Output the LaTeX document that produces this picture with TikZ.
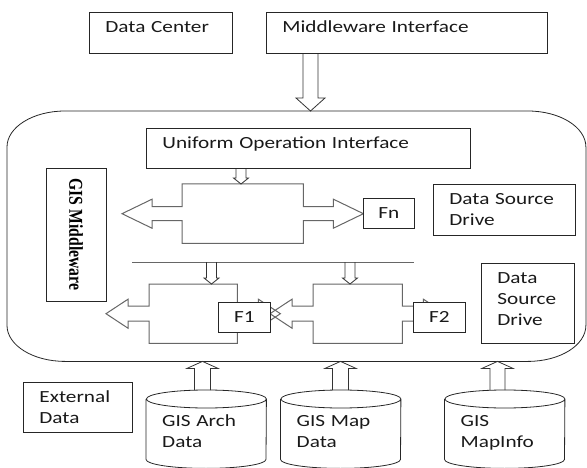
\documentclass[tikz,border=0pt]{standalone}
\usepackage{fontspec}
\usepackage{graphicx}
\setmainfont{Carlito}[FakeStretch=1.25]
\newfontfamily\gisfont{Liberation Serif}
\usetikzlibrary{calc,positioning}

\newcommand\txtsize{\fontsize{17}{21}\selectfont}

% hollow block arrows: #1 gives the start height, #2 the tip,
% #3 half shaft, #4 half head, #5 head length
\newcommand\arrowdown[5]{%
  \draw[hollow] let \p1=(#1), \p2=(#2) in
    (\x2-#3,\y1) -- (\x2-#3,\y2+#5) -- (\x2-#4,\y2+#5) -- (\p2)
    -- (\x2+#4,\y2+#5) -- (\x2+#3,\y2+#5) -- (\x2+#3,\y1);}
\newcommand\arrowup[5]{%
  \draw[hollow] let \p1=(#1), \p2=(#2) in
    (\x2-#3,\y1) -- (\x2-#3,\y2-#5) -- (\x2-#4,\y2-#5) -- (\p2)
    -- (\x2+#4,\y2-#5) -- (\x2+#3,\y2-#5) -- (\x2+#3,\y1);}

% left/right arrow callout round body node #1
% #2 half shaft, #3 half head, #4 shaft length, #5 head length
\newcommand\lrcallout[5]{%
  \draw[callout] let \p1=(#1.north west), \p2=(#1.south east), \p3=(#1.center) in
    (\p1) -- (\x2,\y1) -- (\x2,\y3+#2) -- (\x2+#4,\y3+#2) -- (\x2+#4,\y3+#3)
    -- (\x2+#4+#5,\y3) -- (\x2+#4,\y3-#3) -- (\x2+#4,\y3-#2) -- (\x2,\y3-#2)
    -- (\p2) -- (\x1,\y2) -- (\x1,\y3-#2) -- (\x1-#4,\y3-#2) -- (\x1-#4,\y3-#3)
    -- (\x1-#4-#5,\y3) -- (\x1-#4,\y3+#3) -- (\x1-#4,\y3+#2) -- (\x1,\y3+#2) -- cycle;}

% database drum round text node #1
\newcommand\drum[1]{%
  \draw[frame] let \p1=(#1.north west), \p2=(#1.south east) in
    (\x1,\y1-9pt) -- (\x1,\y2+9pt)
    arc[start angle=180, end angle=360, x radius=60pt, y radius=9pt]
    -- (\x2,\y1-9pt)
    arc[start angle=0, end angle=360, x radius=60pt, y radius=9pt];}

\tikzset{
  frame/.style={draw=black!85, line width=0.8pt},
  hollow/.style={draw=black!80, line width=0.8pt},
  callout/.style={draw=black!60, line width=1pt},
  box/.style={frame, anchor=north west, inner xsep=16pt, inner ysep=0pt,
    align=left, font=\txtsize, text=black!90, text height=20pt},
  dbtxt/.style={anchor=north west, inner xsep=16pt, inner ysep=0pt,
    align=left, font=\txtsize, text=black!90, text height=36.7pt,
    text width=88, text depth=41.3pt},
  fnode/.style={frame, fill=white, anchor=north west, minimum width=52,
    minimum height=30, inner sep=0pt, font=\txtsize, text=black!90},
  body/.style={inner sep=0pt, anchor=north west, minimum height=59}
}

\begin{document}
\begin{tikzpicture}[x=1pt, y=-1pt]
  \useasboundingbox (0,0) rectangle (587,468);

  % middleware frame
  \node[inner sep=0pt, minimum width=578.5, minimum height=250, anchor=north west] (core) at (7,111) {};
  \draw[frame] ([xshift=58pt]core.north west) -- ([xshift=-58pt]core.north east)
    arc[start angle=90, end angle=0, x radius=58pt, y radius=36pt]
    -- ([yshift=36pt]core.south east)
    arc[start angle=0, end angle=-90, x radius=58pt, y radius=36pt]
    -- ([xshift=58pt]core.south west)
    arc[start angle=270, end angle=180, x radius=58pt, y radius=36pt]
    -- ([yshift=-36pt]core.north west)
    arc[start angle=180, end angle=90, x radius=58pt, y radius=36pt] -- cycle;

  % top row
  \node[box, text width=111, text depth=21pt] (dc) at (89,12) {Data Center};
  \node[box, text width=249, text depth=21pt] (mw) at (266,12) {Middleware Interface};

  % inside the frame
  \node[box, text width=292, text depth=20pt] (uoi) at (146,128) {Uniform Operation Interface};
  \node[frame, rotate=-90, minimum width=133, minimum height=60, inner sep=0pt,
    font=\gisfont\bfseries\fontsize{15.7}{18}\selectfont] (gism) at (76,234.5)
    {\scalebox{1}[1.25]{GIS Middleware}};
  \node[box, text width=110, text depth=31pt] (dsd1) at (433,184) {Data Source\\Drive};
  \node[box, text width=61, text depth=60pt] (dsd2) at (481,263) {Data\\Source\\Drive};

  \node[body, minimum width=121] (fnbody) at (182,184) {};
  \node[body, minimum width=88] (f1body) at (149,284) {};
  \node[body, minimum width=89] (f2body) at (313,284) {};
  \lrcallout{fnbody}{7pt}{14.5pt}{30pt}{30pt}
  \lrcallout{f1body}{7.5pt}{14.5pt}{21pt}{22pt}
  \lrcallout{f2body}{7.5pt}{14.5pt}{21pt}{22pt}

  \node[fnode, minimum width=51] (fn) at (363,198) {Fn};
  \node[fnode] (f1) at (218,302) {F1};
  \node[fnode] (f2) at (413,302) {F2};

  \coordinate (busL) at (132,262);
  \coordinate (busR) at (414,262);
  \draw[callout] (busL) -- (busR);

  % external sources
  \node[box, text width=77, text depth=30pt] (ext) at (23,382) {External\\Data};
  \node[dbtxt] (arch) at (146,390) {GIS Arch\\Data};
  \node[dbtxt] (map) at (280.5,390) {GIS Map\\Data};
  \node[dbtxt] (info) at (444.5,390) {GIS\\MapInfo};
  \drum{arch}
  \drum{map}
  \drum{info}

  % block arrows
  \arrowdown{mw.south}{$(core.north west)+(303.5,0)$}{7.5pt}{14.5pt}{13pt}
  \arrowdown{uoi.south}{$(fnbody.north west)+(59,0)$}{5pt}{7.5pt}{6pt}
  \arrowdown{busL}{$(f1body.north west)+(62.5,0)$}{5pt}{7.5pt}{6pt}
  \arrowdown{busL}{$(f2body.north west)+(37,0)$}{5pt}{7.5pt}{6pt}
  \arrowup{arch.north}{$(core.south west)+(195.5,0)$}{8pt}{15.5pt}{7pt}
  \arrowup{map.north}{$(core.south west)+(333.5,0)$}{8pt}{15.5pt}{7pt}
  \arrowup{info.north}{$(core.south west)+(490.5,0)$}{7.5pt}{15.5pt}{7pt}
\end{tikzpicture}
\end{document}
